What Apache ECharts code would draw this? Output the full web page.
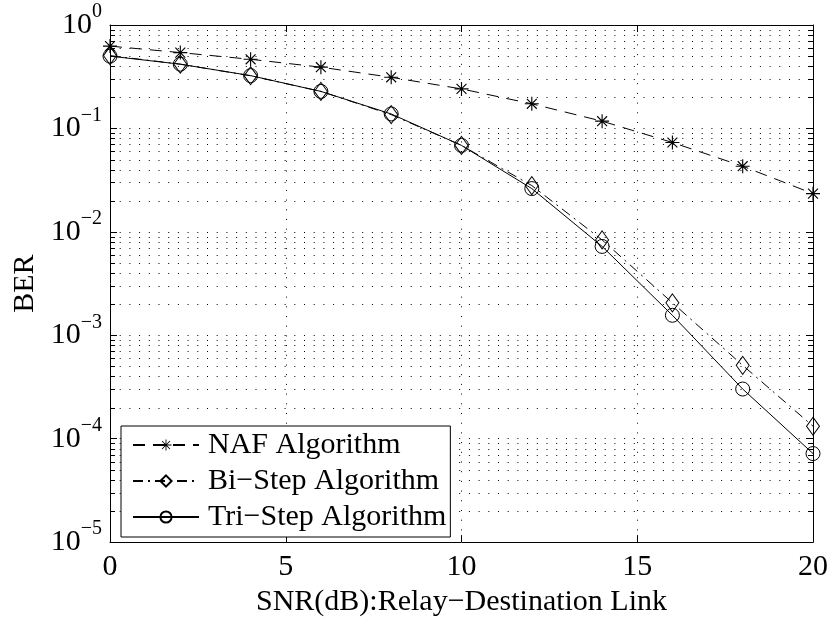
<!DOCTYPE html>
<html>
<head>
<meta charset="utf-8">
<script src="https://cdn.jsdelivr.net/npm/echarts@6/dist/echarts.min.js"></script>
<style>
html,body{margin:0;padding:0;background:#fff;}
#chart{width:831px;height:622px;}
</style>
</head>
<body>
<div id="chart"></div>
<script>
// ---- data ----
const snr = [0, 2, 4, 6, 8, 10, 12, 14, 16, 18, 20];
const nafBer = [0.625, 0.541, 0.466, 0.391, 0.312, 0.241, 0.173, 0.1175, 0.0731, 0.0431, 0.0234];
const biBer  = [0.506, 0.418, 0.323, 0.228, 0.136, 0.0685, 0.028, 0.00835, 0.00206, 0.000512, 0.000132];
const triBer = [0.500, 0.418, 0.324, 0.228, 0.138, 0.0685, 0.0262, 0.00723, 0.00156, 0.000302, 0.0000718];
const seriesNames = ['NAF Algorithm', 'Bi\u2212Step Algorithm', 'Tri\u2212Step Algorithm'];
const xTickValues = [0, 5, 10, 15, 20];
const yDecadeExponents = [-5, -4, -3, -2, -1, 0];
const yMinorMantissas = [2, 3, 4, 5, 6, 7, 8, 9];
const xAxisTitle = 'SNR(dB):Relay\u2212Destination Link';
const yAxisTitle = 'BER';

// ---- derived ----
const minorVals = [];
yDecadeExponents.slice(0, -1).forEach(e => {
  yMinorMantissas.forEach(m => minorVals.push(Number((m * Math.pow(10, e)).toPrecision(3))));
});
const FONT = "'Liberation Serif', 'Times New Roman', serif";
const FS = 30;
const asterisk = 'path://M9.2 0 L10.8 0 L10.8 20 L9.2 20 Z M0 9.2 L20 9.2 L20 10.8 L0 10.8 Z M3.5 2.36 L17.64 16.5 L16.5 17.64 L2.36 3.5 Z M16.5 2.36 L17.64 3.5 L3.5 17.64 L2.36 16.5 Z';

const chart = echarts.init(document.getElementById('chart'), null, {renderer: 'canvas'});
const hollow = {color: 'rgba(255,255,255,0)', borderColor: '#000', borderWidth: 1};
const snap = v => Math.round(v) + 0.5;

const option = {
  animation: false,
  backgroundColor: '#fff',
  grid: {left: 110, right: 17, top: 25, bottom: 73, containLabel: false},
  xAxis: [
    {
      type: 'value', min: xTickValues[0], max: xTickValues[xTickValues.length - 1], interval: 5,
      position: 'bottom',
      axisLine: {show: true, onZero: false, lineStyle: {color: '#000', width: 1}},
      axisTick: {show: true, inside: true, length: 7, lineStyle: {color: '#000'}},
      axisLabel: {fontFamily: FONT, fontSize: FS, color: '#000', margin: 10},
      splitLine: {show: true, lineStyle: {color: '#000', width: 1, type: [1, 8.7]}},
      name: xAxisTitle, nameLocation: 'middle', nameGap: 37,
      nameTextStyle: {fontFamily: FONT, fontSize: FS, color: '#000'}
    },
    {
      type: 'value', min: xTickValues[0], max: xTickValues[xTickValues.length - 1], interval: 5,
      position: 'top',
      axisLine: {show: true, onZero: false, lineStyle: {color: '#000', width: 1}},
      axisTick: {show: true, inside: true, length: 7, lineStyle: {color: '#000'}},
      axisLabel: {show: false},
      splitLine: {show: false}
    }
  ],
  yAxis: [
    {
      type: 'log', logBase: 10, min: 1e-5, max: 1,
      position: 'left',
      axisLine: {show: true, onZero: false, lineStyle: {color: '#000', width: 1}},
      axisTick: {show: true, inside: true, length: 7, lineStyle: {color: '#000'}},
      axisLabel: {
        margin: 8,
        formatter: v => {
          const e = Math.round(Math.log10(v));
          return '{b|10}{s|' + (e === 0 ? '0' : '\u2212' + (-e)) + '}';
        },
        padding: [0, 0, 8, 0],
        rich: {
          b: {fontFamily: FONT, fontSize: FS, lineHeight: 30, padding: [8, 0, 0, 0], color: '#000'},
          s: {fontFamily: FONT, fontSize: 20, lineHeight: 20, padding: [0, 0, 18, 0], color: '#000'}
        }
      },
      splitLine: {show: true, lineStyle: {color: '#000', width: 1, type: [1, 8.7]}},
      name: yAxisTitle, nameLocation: 'middle', nameGap: 70, nameRotate: 90,
      nameTextStyle: {fontFamily: FONT, fontSize: FS, color: '#000'}
    },
    {
      type: 'log', logBase: 10, min: 1e-5, max: 1,
      position: 'right',
      axisLine: {show: true, onZero: false, lineStyle: {color: '#000', width: 1}},
      axisTick: {show: true, inside: true, length: 7, lineStyle: {color: '#000'}},
      axisLabel: {show: false},
      splitLine: {show: false}
    }
  ],
  legend: {
    data: seriesNames,
    orient: 'vertical', left: 121, top: 426,
    padding: [4, 4, 5, 11],
    itemWidth: 66, itemHeight: 14, itemGap: 6,
    borderColor: '#000', borderWidth: 1, backgroundColor: '#fff',
    selectedMode: false,
    textStyle: {fontFamily: FONT, fontSize: FS, color: '#000', lineHeight: 30, padding: [0, 0, 0, 4]}
  },
  series: [
    {
      type: 'custom', silent: true, z: 1, xAxisIndex: 0, yAxisIndex: 0,
      data: minorVals.map(v => [0, v]),
      renderItem: (params, api) => {
        const v = api.value(1);
        const p0 = api.coord([xTickValues[0], v]);
        const p1 = api.coord([xTickValues[xTickValues.length - 1], v]);
        const y = snap(p0[1]);
        return {type: 'group', children: [
          {type: 'line', shape: {x1: p0[0], y1: y, x2: p1[0], y2: y}, style: {stroke: '#000', lineWidth: 1, lineDash: [1, 8.7]}},
          {type: 'line', shape: {x1: p0[0], y1: y, x2: p0[0] + 5, y2: y}, style: {stroke: '#000', lineWidth: 1}},
          {type: 'line', shape: {x1: p1[0] - 5, y1: y, x2: p1[0], y2: y}, style: {stroke: '#000', lineWidth: 1}}
        ]};
      }
    },
    {
      name: seriesNames[0], type: 'line', z: 3,
      data: snr.map((x, i) => [x, nafBer[i]]),
      symbol: asterisk, symbolSize: 14,
      itemStyle: {color: '#000', borderWidth: 0},
      lineStyle: {color: '#000', width: 1, type: [12, 8]}
    },
    {
      name: seriesNames[1], type: 'line', z: 4,
      data: snr.map((x, i) => [x, biBer[i]]),
      symbol: 'diamond', symbolSize: [13, 18],
      itemStyle: hollow,
      lineStyle: {color: '#000', width: 1, type: [10, 5, 2, 5]}
    },
    {
      name: seriesNames[2], type: 'line', z: 5,
      data: snr.map((x, i) => [x, triBer[i]]),
      symbol: 'circle', symbolSize: 14,
      itemStyle: hollow,
      lineStyle: {color: '#000', width: 1, type: 'solid'}
    }
  ]
};
chart.setOption(option);
</script>
</body>
</html>
